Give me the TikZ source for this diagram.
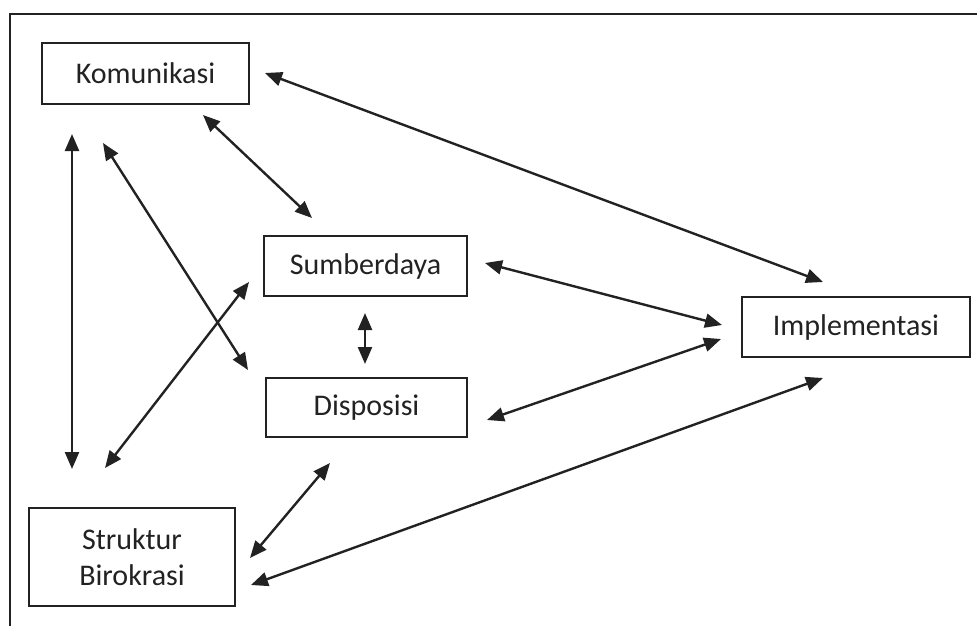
\documentclass[tikz,border=0pt]{standalone}
\usepackage{fontspec}
\setmainfont{Carlito}
\usetikzlibrary{arrows.meta}
\definecolor{ink}{HTML}{222222}
\begin{document}
\begin{tikzpicture}[x=1pt,y=-1pt,
  box/.style={draw=ink,line width=2.2pt,inner sep=0pt,text=ink,
    font=\fontsize{30}{36}\selectfont,align=center},
  link/.style={draw=ink,line width=2.4pt,
    {Triangle[length=17pt,width=14pt]}-{Triangle[length=17pt,width=14pt]}}]
  \useasboundingbox (0,0) rectangle (977,626);
  % outer frame (only top and left edges lie inside the page)
  \draw[ink,line width=1.8pt] (977,14) -- (10,14) -- (10,626);

  % factor boxes
  \node[box,minimum width=207pt,minimum height=61pt] (kom) at (145.5,73.5) {Komunikasi};
  \node[box,minimum width=203pt,minimum height=60pt] (sum) at (365.5,266) {Sumberdaya};
  \node[box,minimum width=201pt,minimum height=59pt] (dis) at (366.5,407.5) {Disposisi};
  \node[box,minimum width=228pt,minimum height=60pt] (imp) at (856,327) {Implementasi};
  \node[box,minimum width=206pt,minimum height=98pt] (str) at (132,557) {Struktur\\Birokrasi};

  % arrow end points
  \coordinate (kom-imp-a) at (265,73);
  \coordinate (kom-imp-b) at (823,282);
  \coordinate (kom-sum-a) at (203,115);
  \coordinate (kom-sum-b) at (312,218);
  \coordinate (kom-str-a) at (72,134);
  \coordinate (kom-str-b) at (72,469);
  \coordinate (kom-dis-a) at (103,143);
  \coordinate (kom-dis-b) at (248,370);
  \coordinate (str-sum-a) at (105,468);
  \coordinate (str-sum-b) at (249,282);
  \coordinate (sum-dis-a) at (365,313);
  \coordinate (sum-dis-b) at (365,364);
  \coordinate (sum-imp-a) at (485,263);
  \coordinate (sum-imp-b) at (722,325);
  \coordinate (dis-imp-a) at (487,420);
  \coordinate (dis-imp-b) at (721,339);
  \coordinate (dis-str-a) at (330,463);
  \coordinate (dis-str-b) at (250,558);
  \coordinate (str-imp-a) at (251,585);
  \coordinate (str-imp-b) at (823,378);

  % relations
  \draw[link] (kom-imp-a) -- (kom-imp-b);
  \draw[link] (kom-sum-a) -- (kom-sum-b);
  \draw[link] (kom-str-a) -- (kom-str-b);
  \draw[link] (kom-dis-a) -- (kom-dis-b);
  \draw[link] (str-sum-a) -- (str-sum-b);
  \draw[link] (sum-dis-a) -- (sum-dis-b);
  \draw[link] (sum-imp-a) -- (sum-imp-b);
  \draw[link] (dis-imp-a) -- (dis-imp-b);
  \draw[link] (dis-str-a) -- (dis-str-b);
  \draw[link] (str-imp-a) -- (str-imp-b);
\end{tikzpicture}
\end{document}
